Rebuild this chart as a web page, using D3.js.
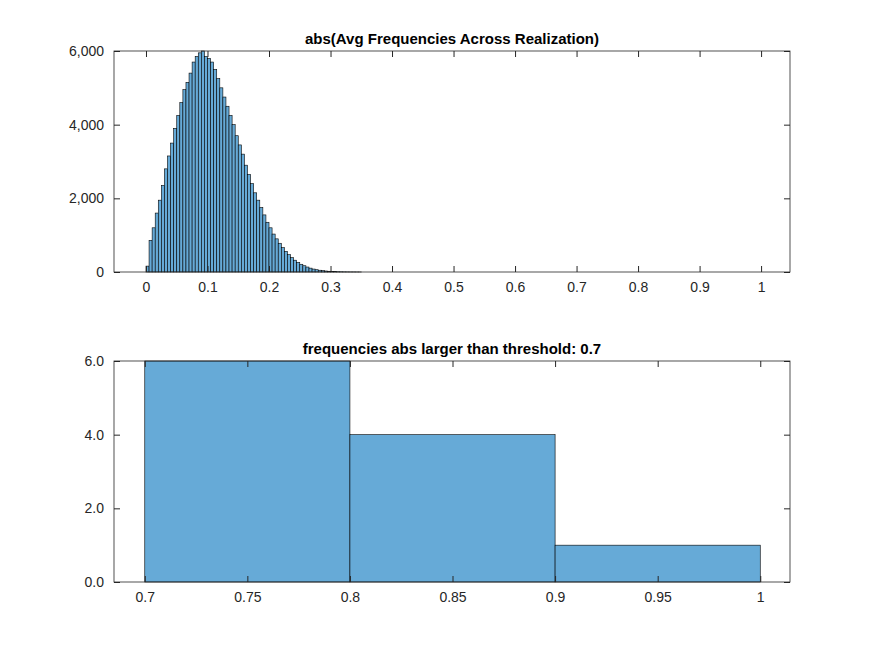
<!DOCTYPE html>
<html><head><meta charset="utf-8">
<script src="https://cdn.jsdelivr.net/npm/d3@7"></script>
<style>body{margin:0;background:#fff}svg{font-family:Arial,"Liberation Sans",sans-serif}</style>
</head><body><div id="chart"></div>
<script>
// top histogram: bin width 0.005 starting at 0
const topBinWidth = 0.005;
const topCounts = [160,860,1200,1600,1950,2350,2800,3150,3500,3900,4250,4600,4950,5150,5400,5700,5850,5950,6000,5850,
  5800,5700,5500,5250,5000,4750,4500,4250,4000,3700,3450,3200,2900,2650,2400,2150,1950,1750,1550,1350,
  1200,1030,900,780,660,560,470,390,320,260,210,170,135,105,80,62,48,36,27,20,
  15,11,8,6,4,3,2,2,1,1];
const topTicksX = [0,0.1,0.2,0.3,0.4,0.5,0.6,0.7,0.8,0.9,1];
const topTicksY = [0,2000,4000,6000];

// bottom histogram
const botEdges = [0.7,0.8,0.9,1.0];
const botCounts = [6,4,1];
const botTicksX = [0.7,0.75,0.8,0.85,0.9,0.95,1];
const botTicksY = [0,2,4,6];

const W = 875, H = 656;
const FILL = "#66aad7";
const svg = d3.select("#chart").append("svg").attr("width", W).attr("height", H);

function panel(top, bottom, xDom, yDom, bins, xt, yt, title) {
  const x = d3.scaleLinear().domain(xDom).range([114, 790]);
  const y = d3.scaleLinear().domain(yDom).range([bottom, top]);
  const g = svg.append("g");
  g.selectAll("rect.bar").data(bins).enter().append("rect")
    .attr("x", d => x(d.x0)).attr("width", d => x(d.x1) - x(d.x0))
    .attr("y", d => y(d.v)).attr("height", d => y(0) - y(d.v))
    .attr("fill", FILL).attr("stroke", "#000").attr("stroke-width", 0.6);
  const ax = (gen, tr) => {
    const a = g.append("g").attr("transform", tr).call(gen);
    a.select(".domain").remove();
    a.selectAll("line").attr("stroke", "#262626");
    a.selectAll("text").attr("fill", "#262626").style("font-size", "14px");
  };
  ax(d3.axisBottom(x).tickValues(xt).tickSize(-6).tickPadding(10).tickFormat(d3.format("")), `translate(0,${bottom})`);
  ax(d3.axisTop(x).tickValues(xt).tickSize(-6).tickFormat(""), `translate(0,${top})`);
  ax(d3.axisLeft(y).tickValues(yt).tickSize(-6).tickPadding(10), `translate(114,0)`);
  ax(d3.axisRight(y).tickValues(yt).tickSize(-6).tickFormat(""), `translate(790,0)`);
  g.append("rect").attr("x", 114).attr("y", top).attr("width", 676).attr("height", bottom - top)
    .attr("fill", "none").attr("stroke", "#262626").attr("stroke-width", 0.8);
  g.append("text").attr("x", 452).attr("y", top - 7).attr("text-anchor", "middle")
    .style("font-size", "15px").style("font-weight", "bold").attr("fill", "#000").text(title);
}

const nTop = Math.round(1 / topBinWidth);
const topBins = d3.range(nTop).map(i => ({x0: i * topBinWidth, x1: (i + 1) * topBinWidth, v: topCounts[i] || 0}));
panel(51, 272, [-0.052, 1.047], [0, 6000], topBins, topTicksX, topTicksY, "abs(Avg Frequencies Across Realization)");

const botBins = botCounts.map((v, i) => ({x0: botEdges[i], x1: botEdges[i + 1], v}));
panel(361, 582, [0.685, 1.0145], [0, 6], botBins, botTicksX, botTicksY, "frequencies abs larger than threshold: 0.7");
</script></body></html>
